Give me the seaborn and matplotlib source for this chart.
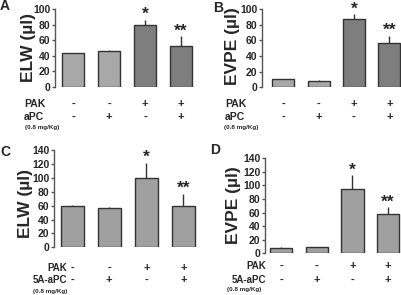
import matplotlib
matplotlib.use("Agg")
import matplotlib.pyplot as plt
import matplotlib.transforms as mtrans
import seaborn as sns
import numpy as np
import pandas as pd

sns.set_style("white")
plt.rcParams["font.family"] = ["Liberation Sans", "DejaVu Sans"]
plt.rcParams["font.weight"] = "bold"

groups = ["g1", "g2", "g3", "g4"]
pak_signs = ["-", "-", "+", "+"]
drug_signs = ["-", "+", "-", "+"]
stars = ["", "", "*", "**"]

# panel A: ELW, aPC
a_vals = [43, 46, 79, 52]
a_err = [1, 2, 7, 13]
# panel B: EVPE, aPC
b_vals = [10, 8, 87, 57]
b_err = [1, 1, 6, 9]
# panel C: ELW, 5A-aPC
c_vals = [60, 57, 100, 60]
c_err = [0.5, 0.5, 22, 17]
# panel D: EVPE, 5A-aPC
d_vals = [8, 9, 95, 58]
d_err = [1, 1, 20, 10]

W, H = 401, 295
fig = plt.figure(figsize=(W / 100, H / 100), dpi=100)


def px_axes(left, right, top, bottom):
    return fig.add_axes([left / W, 1 - bottom / H, (right - left) / W, (bottom - top) / H])


def panel(box, vals, err, colors, ylab, ymax, xlo, lab_x, lab_y,
          letter, letter_xy, drug, rows, row_x, row_ha, row_fs, small_x):
    ax = px_axes(*box)
    df = pd.DataFrame({"group": groups, "val": vals})
    sns.barplot(data=df, x="group", y="val", hue="group", palette=colors,
                legend=False, width=0.62, edgecolor="#333333", linewidth=1,
                ax=ax)
    x = np.arange(len(vals))
    ax.errorbar(x, vals, yerr=[np.zeros(len(err)), err], fmt="none",
                ecolor="#333333", elinewidth=1, capsize=0)
    for i, s in enumerate(stars):
        if s:
            ax.annotate(s, (x[i], vals[i] + err[i]), xytext=(0, 0.5),
                        textcoords="offset points", ha="center", va="baseline",
                        fontsize=12.5, fontweight="bold", annotation_clip=False)
    ax.set_xlim(xlo, 3.5)
    ax.set_ylim(0, ymax)
    ax.set_yticks(np.arange(0, ymax + 1, 20))
    ax.tick_params(axis="y", labelsize=7.5, length=2, width=1, pad=1.5,
                   color="#555555", left=True)
    for t in ax.get_yticklabels():
        t.set_fontweight("bold")
    ax.set_xticks([])
    ax.set_xlabel("")
    for s in ["top", "right", "bottom"]:
        ax.spines[s].set_visible(False)
    ax.spines["left"].set_color("#555555")
    ax.spines["left"].set_linewidth(1)
    ax.set_ylabel(ylab, fontsize=12.5, fontweight="bold")
    ax.yaxis.set_label_coords((lab_x - box[0]) / (box[1] - box[0]),
                              (box[3] - lab_y) / (box[3] - box[2]))
    ax.set_facecolor("none")

    fig.text(letter_xy[0] / W, 1 - letter_xy[1] / H, letter, fontsize=10,
             fontweight="bold", ha="left", va="center")

    trans = mtrans.blended_transform_factory(ax.transData, fig.transFigure)
    for label, signs, ry in [("PAK", pak_signs, rows[0]), (drug, drug_signs, rows[1])]:
        fig.text(row_x / W, 1 - ry / H, label, fontsize=row_fs, fontweight="bold",
                 ha=row_ha, va="center")
        for i, sg in enumerate(signs):
            ax.text(x[i], 1 - ry / H, sg, transform=trans, fontsize=8,
                    fontweight="bold", ha="center", va="center", clip_on=False)
    fig.text(small_x / W, 1 - rows[2] / H, "(0.8 mg/Kg)", fontsize=4.5,
             fontweight="bold", ha="left", va="center")
    return ax


light = "#a8a8a8"
dark = "#7e7e7e"
mid = "#a0a0a0"

panel((55, 199, 9, 87), a_vals, a_err, [light, light, dark, dark], "ELW (µl)",
      100, -0.51, 36, 48, "A", (0, 6), "aPC", (104, 117, 127), 24, "left", 7.5, 25)
panel((262, 407, 9, 87.3), b_vals, b_err, [light, light, dark, dark], "EVPE (µl)",
      100, -0.6, 240, 46, "B", (213, 8), "aPC", (104, 117, 127), 225, "left", 7.5, 224)
panel((54, 202, 150.3, 247.3), c_vals, c_err, [mid] * 4, "ELW (µl)",
      140, -0.49, 33, 204, "C", (0, 152), "5A-aPC", (268, 280, 291), 67, "right", 7, 33)
panel((265, 406, 158.3, 253.3), d_vals, d_err, [mid] * 4, "EVPE (µl)",
      140, -0.45, 241, 205, "D", (210, 150), "5A-aPC", (266, 280, 290), 266, "right", 7, 227)

fig.savefig("out.png", dpi=100)
